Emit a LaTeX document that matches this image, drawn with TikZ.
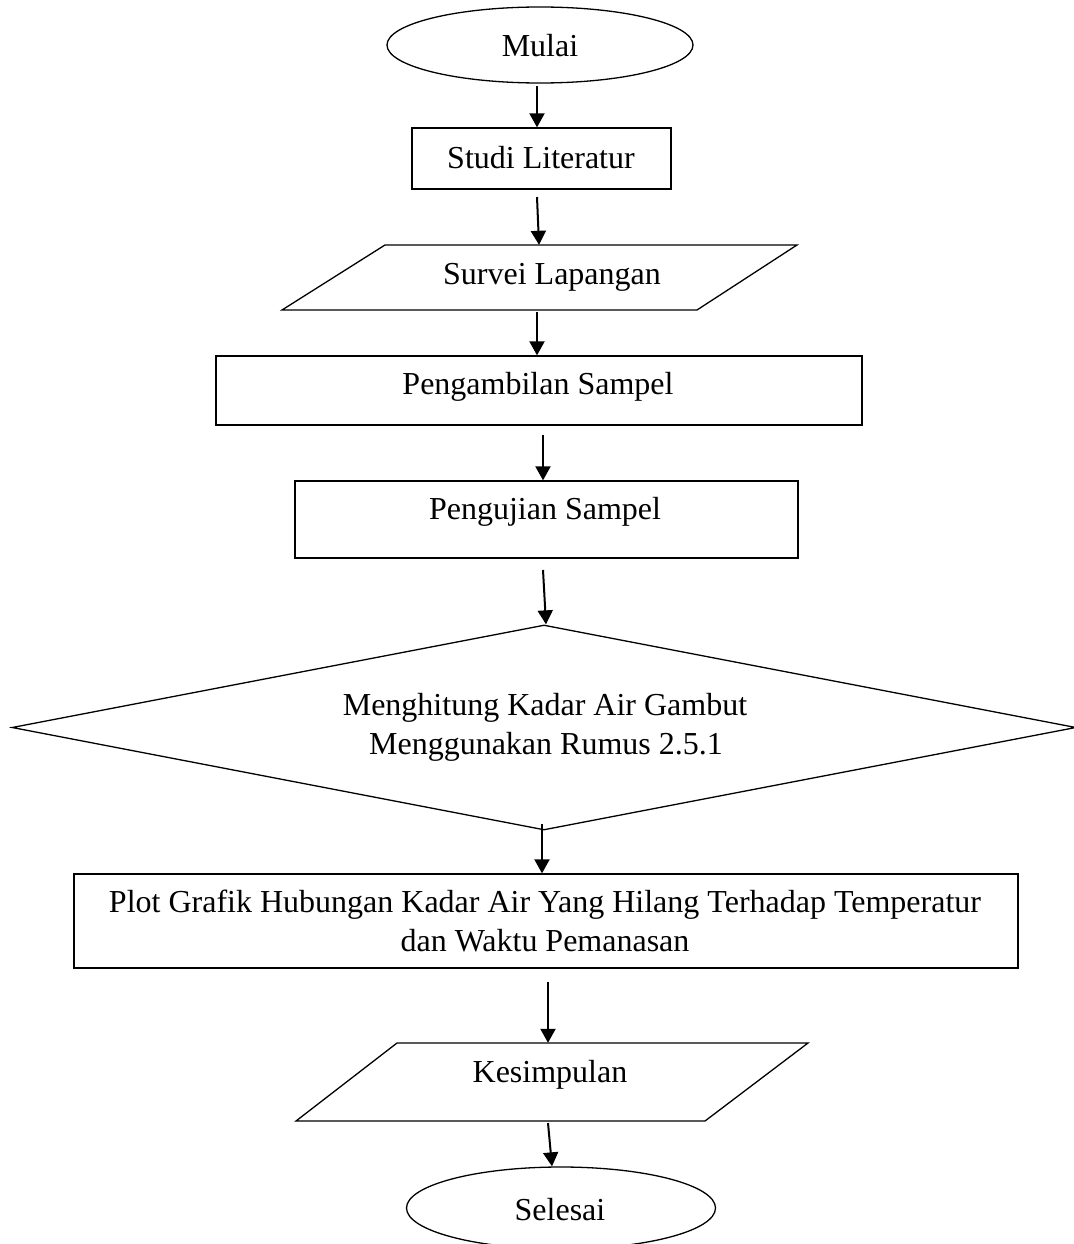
\documentclass[tikz,border=0pt]{standalone}
\usepackage{fontspec}
\setmainfont{Liberation Serif}
\usetikzlibrary{shapes.geometric,arrows.meta}
\begin{document}
\begin{tikzpicture}[x=1pt,y=-1pt,
  shp/.style={draw=black,line width=1.3pt,inner sep=0pt},
  ghost/.style={inner sep=0pt},
  txt/.style={anchor=base,inner sep=0pt,font=\fontsize{32}{39}\selectfont},
  arr/.style={line width=2pt,-{Triangle[length=14pt,width=15pt]}}]
\useasboundingbox[fill=white] (0,0) rectangle (1073,1244);
% shapes
\node[shp,ellipse,minimum width=306pt,minimum height=76pt] (mulai) at (540,45) {};
\node[shp,rectangle,minimum width=259pt,minimum height=61pt] (studi) at (541.5,158.5) {};
\node[ghost,minimum width=415pt,minimum height=65pt] (survei) at (540.25,277.5) {};
\draw[line width=1.3pt] (385,245) -- (797,245) -- (697,310) -- (282,310) -- cycle;
\node[shp,rectangle,minimum width=646pt,minimum height=69pt] (peng) at (539,390.5) {};
\node[shp,rectangle,minimum width=503pt,minimum height=77pt] (uji) at (546.5,519.5) {};
\node[shp,diamond,minimum width=1064pt,minimum height=205pt] (hitung) at (544,727.5) {};
\node[shp,rectangle,minimum width=944pt,minimum height=94pt] (plot) at (546,921) {};
\node[ghost,minimum width=411pt,minimum height=78pt] (kes) at (551.5,1082) {};
\draw[line width=1.3pt] (397,1043) -- (808,1043) -- (705,1121) -- (296,1121) -- cycle;
\node[shp,ellipse,minimum width=309pt,minimum height=82pt] (selesai) at (561,1208) {};
% texts
\node[txt] (tmulai) at (540,57) {Mulai};
\node[txt] (tstudi) at (541,168) {Studi Literatur};
\node[txt] (tsurvei) at (552,284) {Survei Lapangan};
\node[txt] (tpeng) at (538,394) {Pengambilan Sampel};
\node[txt] (tuji) at (545,519) {Pengujian Sampel};
\node[txt] (thit1) at (545,715) {Menghitung Kadar Air Gambut};
\node[txt] (thit2) at (546,754) {Menggunakan Rumus 2.5.1};
\node[txt] (tplot1) at (545,912) {Plot Grafik Hubungan Kadar Air Yang Hilang Terhadap Temperatur};
\node[txt] (tplot2) at (545,951) {dan Waktu Pemanasan};
\node[txt] (tkes) at (550,1082) {Kesimpulan};
\node[txt] (tsel) at (560,1220) {Selesai};
% connector start points
\coordinate (a1) at (537,86);
\coordinate (a2) at (537,197);
\coordinate (a3) at (537,312);
\coordinate (a4) at (543,435);
\coordinate (a5) at (543,570);
\coordinate (a6) at (542,824);
\coordinate (a7) at (548,982);
\coordinate (a8) at (548,1123);
\draw[arr] (a1) -- (a1 |- studi.north);
\draw[arr] (a2) -- ([xshift=2pt]a2 |- survei.north);
\draw[arr] (a3) -- (a3 |- peng.north);
\draw[arr] (a4) -- (a4 |- uji.north);
\draw[arr] (a5) -- ([xshift=3pt]a5 |- hitung.north);
\draw[arr] (a6) -- (a6 |- plot.north);
\draw[arr] (a7) -- (a7 |- kes.north);
\draw[arr] (a8) -- ([xshift=4pt]a8 |- selesai.north);
\end{tikzpicture}
\end{document}
